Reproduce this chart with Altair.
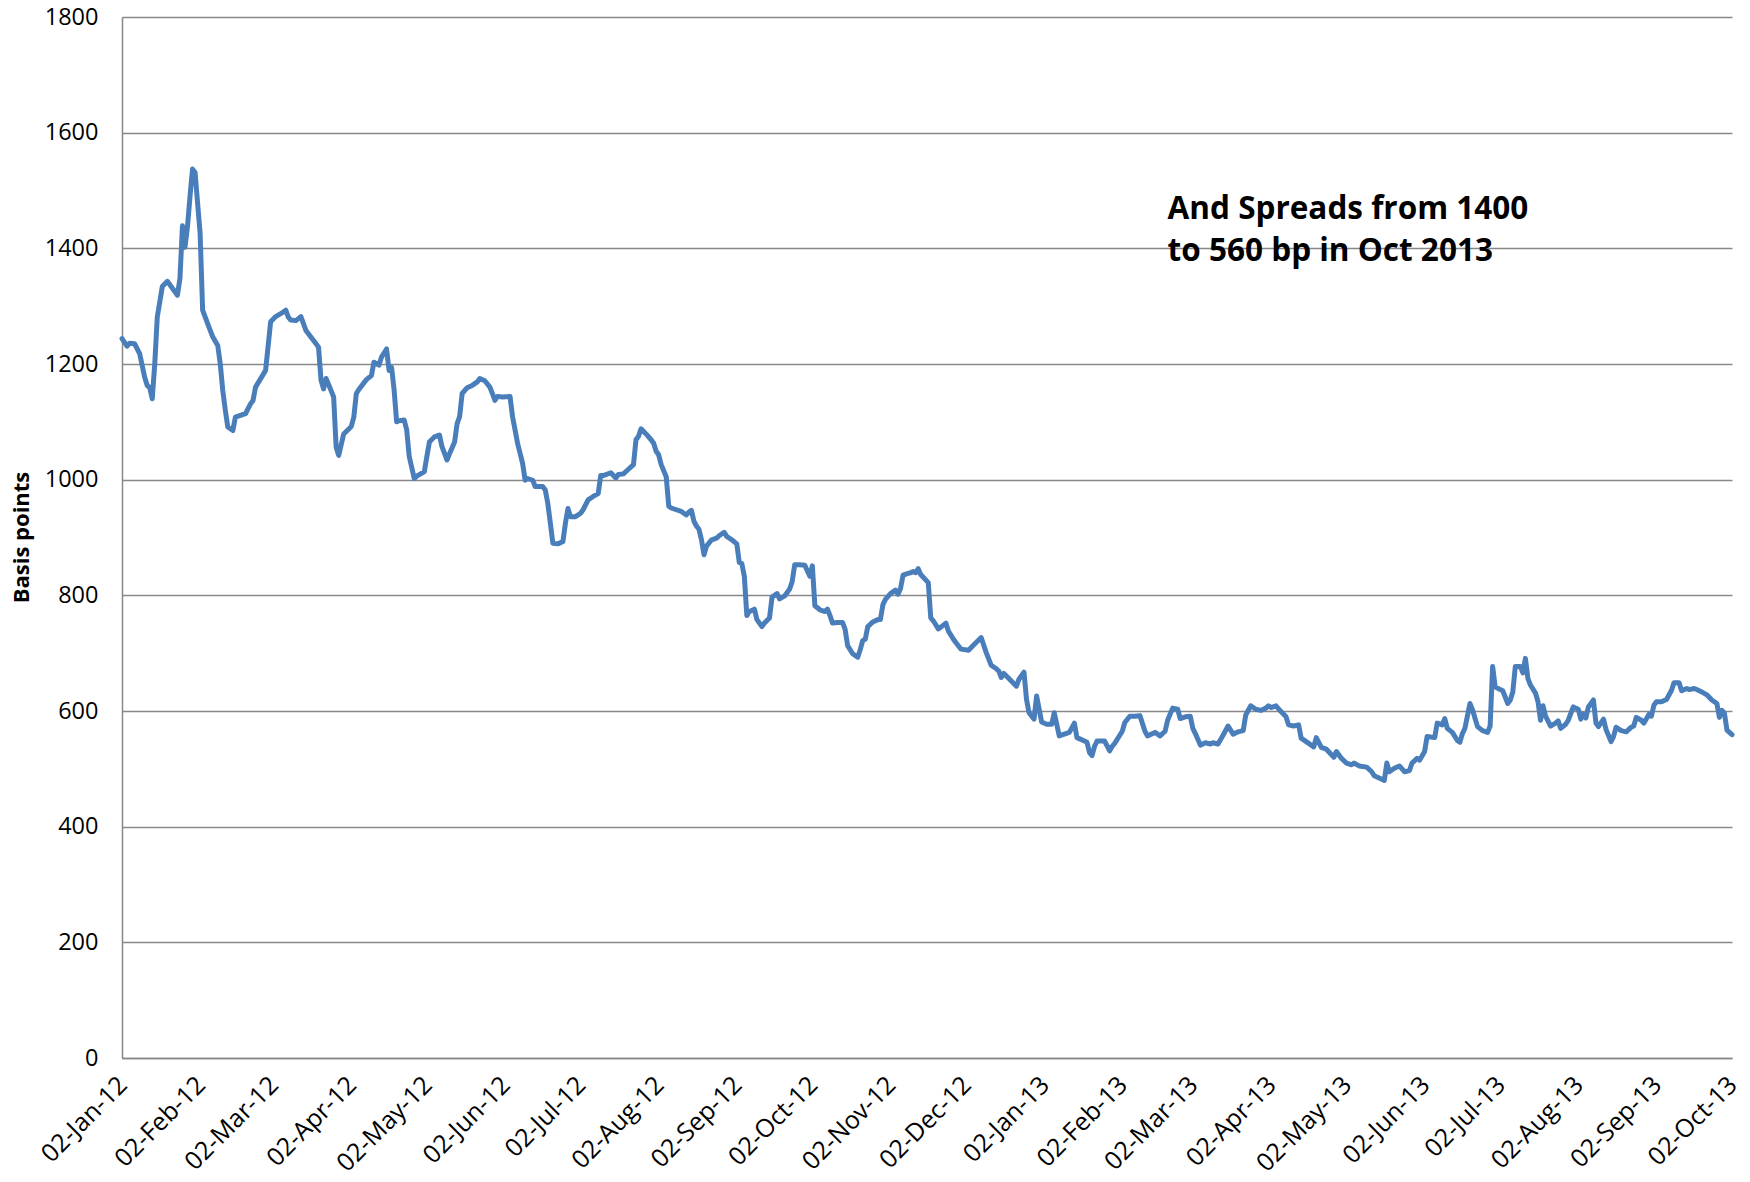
import altair as alt
import pandas as pd

# Daily high-yield spread series, basis points, from 2 Jan 2012.
START = "2012-01-02"

obs_day = [
    0, 2, 3, 5, 7, 9, 10, 11, 12, 13, 14, 16, 18, 20, 22, 23, 24, 25, 26, 27, 28, 29,
    31, 32, 34, 36, 38, 39, 40, 41, 42, 44, 45, 49, 51, 52, 53, 57, 59, 61, 63, 65,
    66, 67, 69, 71, 72, 73, 77, 78, 79, 80, 81, 83, 84, 85, 86, 88, 91, 92, 93, 94,
    97, 99, 100, 102, 103, 105, 106, 107, 108, 109, 110, 112, 113, 114, 116, 117,
    120, 121, 122, 124, 126, 127, 129, 130, 132, 133, 134, 135, 137, 139, 141, 142,
    144, 146, 147, 148, 149, 151, 154, 155, 157, 159, 160, 161, 163, 164, 167, 168,
    169, 170, 171, 173, 175, 176, 177, 178, 180, 182, 183, 185, 187, 189, 190, 191,
    194, 196, 197, 199, 201, 203, 204, 205, 206, 208, 210, 211, 212, 213, 214, 216,
    217, 218, 220, 222, 224, 225, 226, 227, 228, 229, 230, 231, 232, 234, 236, 237,
    239, 240, 242, 244, 245, 246, 247, 248, 249, 251, 252, 254, 255, 257, 258, 260,
    261, 263, 265, 266, 267, 269, 271, 273, 274, 275, 277, 279, 280, 281, 282, 284,
    286, 287, 288, 290, 292, 293, 294, 295, 296, 298, 300, 301, 302, 303, 305, 307,
    308, 309, 310, 312, 313, 314, 315, 316, 317, 320, 321, 322, 324, 325, 327, 328,
    330, 331, 333, 336, 338, 341, 343, 345, 347, 348, 349, 350, 352, 355, 356, 358,
    359, 360, 362, 363, 365, 367, 369, 370, 372, 374, 376, 378, 379, 382, 383, 384,
    385, 386, 387, 390, 392, 393, 394, 397, 398, 400, 402, 404, 406, 407, 410, 412,
    414, 415, 417, 419, 420, 422, 424, 425, 426, 428, 430, 432, 433, 435, 437, 439,
    441, 443, 445, 446, 448, 450, 452, 454, 455, 456, 458, 460, 462, 463, 465, 467,
    468, 470, 473, 474, 476, 478, 481, 482, 484, 486, 488, 489, 491, 494, 496, 497,
    500, 501, 502, 503, 505, 507, 509, 511, 512, 514, 515, 517, 518, 521, 522, 524,
    525, 526, 528, 530, 531, 532, 533, 535, 536, 538, 540, 542, 543, 544, 545, 547,
    548, 550, 551, 552, 553, 555, 556, 557, 558, 559, 561, 562, 563, 564, 565, 567,
    569, 570, 571, 573, 574, 576, 578, 579, 580, 581, 582, 584, 585, 586, 588, 589,
    591, 592, 593, 595, 597, 599, 600, 601, 603, 604, 606, 607, 608, 609, 611, 613,
    615, 616, 618, 619, 621, 622, 624, 625, 627, 629, 631, 633, 634, 635, 636, 637,
    638, 639,
]

spread_bp = [
    1244, 1231, 1236, 1235, 1218, 1177, 1163, 1159, 1140, 1200, 1281, 1334, 1343, 1331, 1319, 1348, 1439, 1402, 1438, 1490, 1537, 1531,
    1426, 1293, 1270, 1247, 1232, 1200, 1154, 1120, 1091, 1085, 1108, 1114, 1131, 1137, 1160, 1189, 1273, 1282, 1287, 1293,
    1281, 1276, 1275, 1282, 1270, 1258, 1235, 1229, 1172, 1157, 1175, 1154, 1143, 1056, 1042, 1079, 1092, 1108, 1149, 1156,
    1173, 1180, 1203, 1198, 1212, 1226, 1189, 1194, 1155, 1100, 1102, 1103, 1086, 1040, 1002, 1006,
    1014, 1040, 1065, 1074, 1077, 1057, 1034, 1045, 1065, 1097, 1109, 1149, 1159, 1163, 1169, 1175,
    1171, 1160, 1149, 1137, 1144, 1143, 1144, 1109, 1063, 1028, 999, 1002, 999, 988, 988, 982,
    959, 925, 890, 889, 893, 925, 950, 936, 936, 942, 948, 965, 971, 976, 1007, 1007,
    1012, 1003, 1009, 1010, 1018, 1026, 1069, 1075, 1088, 1079, 1069, 1063, 1049, 1043, 1026, 1005,
    954, 951, 948, 945, 939, 944, 947, 928, 920, 914, 896, 870, 885, 896, 899, 903,
    909, 902, 896, 889, 857, 855, 833, 765, 772, 776, 758, 746, 752, 761, 797, 803,
    794, 799, 811, 824, 853, 853, 852, 833, 851, 782, 775, 772, 776, 765, 752, 753,
    753, 741, 713, 699, 693, 706, 722, 724, 746, 754, 758, 758, 784, 793, 803, 809,
    802, 812, 835, 838, 839, 841, 839, 846, 836, 822, 761, 756, 742, 745, 752, 738,
    724, 718, 707, 705, 714, 727, 701, 679, 673, 669, 658, 665, 656, 643, 655, 667,
    620, 597, 586, 626, 581, 577, 577, 597, 557, 560, 563, 579, 554, 548, 546, 528,
    523, 539, 548, 548, 531, 539, 544, 565, 580, 591, 591, 592, 565, 557, 563, 557,
    565, 584, 605, 603, 587, 590, 591, 570, 561, 541, 545, 543, 545, 543, 558, 574,
    560, 564, 566, 593, 609, 603, 601, 605, 609, 606, 609, 599, 590, 576, 574, 576,
    553, 547, 538, 554, 537, 534, 520, 530, 518, 510, 507, 510, 505, 503, 495, 488,
    482, 480, 510, 495, 501, 505, 495, 497, 510, 518, 515, 530, 556, 554, 579, 576,
    587, 570, 563, 549, 546, 561, 570, 613, 602, 573, 566, 563, 574, 677, 642, 637,
    635, 613, 619, 633, 677, 677, 666, 691, 656, 645, 631, 616, 584, 609, 591, 574,
    579, 583, 570, 577, 584, 607, 603, 586, 594, 588, 607, 619, 579, 573, 586, 568,
    547, 556, 572, 566, 564, 572, 574, 589, 584, 579, 594, 591, 610, 616, 616, 620,
    636, 649, 649, 635, 639, 637, 639, 637, 633, 628, 619, 613, 589, 601, 596, 567,
    563, 559,
]

tick_dates = [
    "2012-01-02", "2012-02-02", "2012-03-02", "2012-04-02", "2012-05-02", "2012-06-02",
    "2012-07-02", "2012-08-02", "2012-09-02", "2012-10-02", "2012-11-02", "2012-12-02",
    "2013-01-02", "2013-02-02", "2013-03-02", "2013-04-02", "2013-05-02", "2013-06-02",
    "2013-07-02", "2013-08-02", "2013-09-02", "2013-10-02",
]
y_ticks = [0, 200, 400, 600, 800, 1000, 1200, 1400, 1600, 1800]

note_lines = ["And Spreads from 1400", "to 560 bp in Oct 2013"]
note_date = "2013-02-20"
note_value = 1450

FONT = "Open Sans"
GRID = "#888888"
LINE_BLUE = "#4A7EBB"


def as_dt(s):
    y, m, d = (int(p) for p in s.split("-"))
    return alt.DateTime(year=y, month=m, date=d)


dates = (pd.Timestamp(START) + pd.to_timedelta(obs_day, unit="D")).strftime("%Y-%m-%dT00:00:00")
series = pd.DataFrame({"date": list(dates), "bp": spread_bp})
note = pd.DataFrame({"date": [note_date + "T00:00:00"], "bp": [note_value]})

x_scale = alt.Scale(domain=[as_dt(tick_dates[0]), as_dt(tick_dates[-1])])
y_scale = alt.Scale(domain=[0, 1800], nice=False, zero=True)

x_axis = alt.Axis(
    values=[as_dt(d) for d in tick_dates],
    format="%d-%b-%y",
    title=None,
    grid=False,
    ticks=False,
    labelAngle=315,
    labelAlign="right",
    labelBaseline="top",
    labelPadding=14,
    labelOffset=-8,
    labelOverlap=False,
    labelBound=False,
    labelFlush=False,
    labelFont=FONT,
    labelFontSize=25,
    labelColor="#000000",
    domainColor=GRID,
    domainWidth=1.5,
)

y_axis = alt.Axis(
    values=y_ticks,
    format="d",
    title="Basis points",
    grid=True,
    gridColor=GRID,
    gridWidth=1.5,
    ticks=False,
    labelPadding=24,
    labelFont=FONT,
    labelFontSize=23.5,
    labelColor="#000000",
    domainColor=GRID,
    domainWidth=1.5,
    titleFont=FONT,
    titleFontSize=22,
    titleFontWeight="bold",
    titleColor="#000000",
    titleAngle=270,
    titleAlign="center",
    titleBaseline="middle",
    titleX=-101,
    titleY=520,
)

line = alt.Chart(series).mark_line(
    color=LINE_BLUE, strokeWidth=5, strokeJoin="round", strokeCap="round"
).encode(
    x=alt.X("date:T", scale=x_scale, axis=x_axis),
    y=alt.Y("bp:Q", scale=y_scale, axis=y_axis),
)

label = alt.Chart(note).mark_text(
    text=note_lines,
    font=FONT,
    fontSize=31.5,
    fontWeight="bold",
    color="#000000",
    align="left",
    baseline="alphabetic",
    lineHeight=42,
).encode(
    x=alt.X("date:T", scale=x_scale),
    y=alt.Y("bp:Q", scale=y_scale),
)

chart = alt.layer(line, label).properties(
    width=1610,
    height=1041,
    padding={"left": 122, "top": 17, "right": 18, "bottom": 124},
    autosize=alt.AutoSizeParams(type="none"),
    background="#ffffff",
).configure_view(strokeWidth=0)

chart.save("out.html", embed_options={"renderer": "svg", "actions": False})
